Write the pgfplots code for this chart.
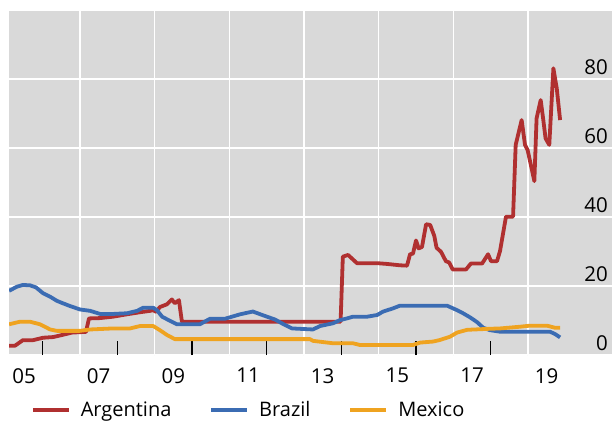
\documentclass[border=0pt]{standalone}
\usepackage{pgfplots}
\pgfplotsset{compat=1.18}
\usepackage{fontspec}
\setmainfont{Open Sans}
\definecolor{bgc}{HTML}{D9D9D9}
\definecolor{arg}{RGB}{176,48,48}
\definecolor{bra}{RGB}{59,108,179}
\definecolor{mex}{RGB}{239,163,32}
\begin{document}
\begin{tikzpicture}
\path[use as bounding box] (-9bp,-67bp) rectangle (603bp,355bp);
\begin{axis}[
  at={(0,0)}, anchor=south west,
  scale only axis, width=603bp, height=345bp,
  xmin=2005.098, xmax=2021.25, ymin=0, ymax=100,
  axis background/.style={fill=bgc},
  axis line style={draw=none},
  /pgf/number format/assume math mode=true,
  tick align=inside,
  xtick pos=bottom,
  xtick={2005.5,2007.5,...,2019.5},
  xticklabels={05,07,09,11,13,15,17,19},
  major x tick style={draw=none},
  minor xtick={2006,2007,...,2019},
  minor x tick style={black, line width=1.2bp},
  minor tick length=14bp,
  extra x ticks={2007,2009,...,2019},
  extra x tick labels={},
  extra x tick style={grid=major, major tick length=0pt},
  xticklabel style={font=\fontsize{20.5bp}{24bp}\selectfont, inner sep=0pt, anchor=north, yshift=-13bp},
  ytick={0,20,40,60,80},
  yticklabels={0,20,40,60,80},
  yticklabel pos=right,
  ytick style={draw=none},
  extra y ticks={100},
  extra y tick labels={},
  ymajorgrids=true,
  grid style={white, line width=1.5bp},
  yticklabel style={font=\fontsize{20.5bp}{24bp}\selectfont, inner sep=0pt, anchor=east, xshift=-4bp, yshift=11.5bp},
  legend style={draw=none, fill=none, at={(0,0)}, anchor=west, xshift=22bp, yshift=-55bp,
    legend columns=3, font=\fontsize{20bp}{24bp}\selectfont, inner sep=0pt, outer sep=0pt,
    nodes={inner sep=0pt},
    /tikz/every odd column/.append style={column sep=10bp},
    /tikz/every even column/.append style={column sep=38bp}},
  legend cell align=left,
  legend image code/.code={\draw[#1, line width=3.8bp] (0bp,0bp) -- (36bp,0bp);},
  every axis plot/.append style={line width=3.8bp, line join=round},
]
\addplot[arg] coordinates {
(2005.10,2.7)(2005.26,2.7)(2005.47,4.3)(2005.74,4.3)(2006.01,5.0)(2006.28,5.2)(2006.52,5.8)(2006.79,6.5)(2007.16,6.7)(2007.24,10.6)(2007.54,10.7)(2007.88,11.1)(2008.26,11.8)(2008.61,12.4)(2008.88,12.8)(2008.96,13.0)(2009.04,12.5)(2009.14,13.9)(2009.33,14.7)(2009.46,16.1)(2009.54,15.0)(2009.65,15.9)(2009.73,9.65)(2013.98,9.65)(2014.04,28.5)(2014.18,29.0)(2014.42,26.6)(2014.98,26.6)(2015.22,26.4)(2015.57,26.0)(2015.76,25.9)(2015.84,29.2)(2015.92,29.4)(2016.00,33.2)(2016.07,30.9)(2016.16,31.3)(2016.27,37.9)(2016.38,37.7)(2016.49,34.5)(2016.55,31.1)(2016.67,29.9)(2016.80,27.2)(2016.89,26.8)(2016.98,24.8)(2017.34,24.8)(2017.47,26.5)(2017.77,26.5)(2017.93,29.2)(2018.01,27.2)(2018.17,27.2)(2018.25,30.1)(2018.41,40.1)(2018.60,40.1)(2018.67,60.9)(2018.83,68.1)(2018.92,60.9)(2018.99,59.4)(2019.17,50.4)(2019.23,68.6)(2019.34,73.9)(2019.41,68.1)(2019.47,62.8)(2019.57,60.9)(2019.68,83.1)(2019.77,77.3)(2019.86,68.1)
};
\addlegendentry{Argentina}
\addplot[bra] coordinates {
(2005.10,18.6)(2005.31,19.8)(2005.47,20.3)(2005.66,20.2)(2005.82,19.6)(2006.01,17.9)(2006.20,16.9)(2006.38,15.7)(2006.54,15.0)(2006.73,14.2)(2007.00,13.2)(2007.27,12.8)(2007.54,11.9)(2007.88,11.9)(2008.26,12.1)(2008.53,12.8)(2008.69,13.7)(2008.96,13.7)(2009.06,13.0)(2009.20,11.1)(2009.41,9.9)(2009.60,8.9)(2010.21,8.9)(2010.48,10.5)(2010.88,10.5)(2011.29,11.8)(2011.63,12.6)(2011.88,11.6)(2012.22,10.3)(2012.49,8.7)(2012.68,7.7)(2013.24,7.4)(2013.43,8.4)(2013.78,9.2)(2013.96,10.1)(2014.15,10.6)(2014.31,11.1)(2014.69,11.1)(2014.96,11.6)(2015.12,12.6)(2015.38,13.5)(2015.57,14.3)(2016.83,14.3)(2017.10,13.0)(2017.26,12.1)(2017.45,10.9)(2017.64,9.5)(2017.80,7.9)(2017.98,7.2)(2018.25,6.75)(2019.59,6.75)(2019.72,6.1)(2019.86,5.1)
};
\addlegendentry{Brazil}
\addplot[mex] coordinates {
(2005.10,8.9)(2005.39,9.65)(2005.66,9.65)(2005.93,8.9)(2006.20,7.4)(2006.38,7.0)(2007.00,7.0)(2007.27,7.4)(2007.88,7.7)(2008.34,7.7)(2008.61,8.4)(2008.96,8.4)(2009.14,7.2)(2009.33,5.8)(2009.54,4.6)(2013.16,4.6)(2013.24,4.1)(2013.78,3.4)(2014.31,3.4)(2014.50,2.9)(2015.92,2.9)(2016.11,3.6)(2016.46,3.9)(2016.64,4.35)(2016.91,5.3)(2017.10,6.5)(2017.37,7.3)(2017.98,7.6)(2018.25,7.7)(2018.79,8.2)(2019.05,8.5)(2019.51,8.5)(2019.72,7.9)(2019.86,7.9)
};
\addlegendentry{Mexico}
\end{axis}
\end{tikzpicture}
\end{document}
